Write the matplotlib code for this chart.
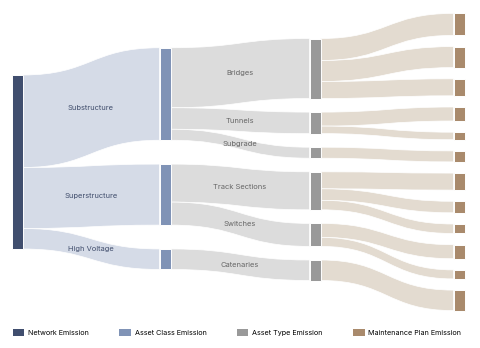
import matplotlib
matplotlib.use("Agg")
import matplotlib.pyplot as plt
from matplotlib.path import Path
from matplotlib.patches import PathPatch, Rectangle, Patch

# ──────────────────────────────────────────────
#  Data (emission values)
# ──────────────────────────────────────────────

network_name = "Network"
class_names = ["Substructure", "Superstructure", "High Voltage"]
type_names = ["Bridges", "Tunnels", "Subgrade", "Track Sections", "Switches", "Catenaries"]
type_class = [0, 0, 0, 1, 1, 2]
plan_values = [22, 21, 17, 14, 7.5, 11, 17, 11.5, 9.5, 14, 9, 20.5]
plan_type = [0, 0, 0, 1, 1, 2, 3, 3, 3, 4, 4, 5]

legend_labels = ["Network Emission", "Asset Class Emission",
                 "Asset Type Emission", "Maintenance Plan Emission"]

# ──────────────────────────────────────────────
#  Styling / layout
# ──────────────────────────────────────────────

node_colors = ["#404e6e", "#8093b6", "#999999", "#a98a6c"]
link_colors = ["#d5dbe7", "#dcdcdc", "#e3dbd0"]
label_colors = ["#404d6c", "#666666"]

col_x = [11.5, 159.5, 309.5, 453.5]
col_center = [162.0, 158.6, 159.5, 162.0]
col_pad = [0, 23.85, 13.6, 11.2]
node_w = 11

plt.rcParams["font.family"] = ["Inter", "DejaVu Sans"]

# ──────────────────────────────────────────────
#  Derived node values
# ──────────────────────────────────────────────

type_values = [0.0] * len(type_names)
for v, t in zip(plan_values, plan_type):
    type_values[t] += v
class_values = [0.0] * len(class_names)
for v, c in zip(type_values, type_class):
    class_values[c] += v
network_values = [sum(class_values)]

columns = [network_values, class_values, type_values, plan_values]
# parent index of each node in the previous column
parents = [None, [0] * len(class_names), type_class, plan_type]


def stack(values, center, pad):
    total = sum(values) + pad * (len(values) - 1)
    y = center - total / 2
    tops = []
    for v in values:
        tops.append(y)
        y += v + pad
    return tops


tops = [stack(v, c, p) for v, c, p in zip(columns, col_center, col_pad)]

fig = plt.figure(figsize=(4.8, 3.48), dpi=100)
ax = fig.add_axes([0, 0, 1, 1])
ax.set_xlim(0, 480)
ax.set_ylim(348, 0)
ax.axis("off")


def draw_link(x0, y0, x1, y1, h, color):
    xm = (x0 + x1) / 2
    verts = [(x0, y0), (xm, y0), (xm, y1), (x1, y1),
             (x1, y1 + h), (xm, y1 + h), (xm, y0 + h), (x0, y0 + h), (x0, y0)]
    codes = [Path.MOVETO, Path.CURVE4, Path.CURVE4, Path.CURVE4,
             Path.LINETO, Path.CURVE4, Path.CURVE4, Path.CURVE4, Path.CLOSEPOLY]
    ax.add_patch(PathPatch(Path(verts, codes), facecolor=color,
                           edgecolor="white", lw=0.5, zorder=1))


# links between consecutive columns
for col in range(1, 4):
    offset = list(tops[col - 1])
    for i, (v, p) in enumerate(zip(columns[col], parents[col])):
        x0 = col_x[col - 1] + node_w
        x1 = col_x[col]
        y0 = offset[p]
        y1 = tops[col][i]
        draw_link(x0, y0, x1, y1, v, link_colors[col - 1])
        offset[p] += v
        # labels for class and type nodes sit in the middle of their link
        if col in (1, 2):
            name = class_names[i] if col == 1 else type_names[i]
            ax.text((x0 + x1) / 2, (y0 + y1) / 2 + v / 2, name,
                    ha="center", va="center", fontsize=5.4,
                    color=label_colors[col - 1], zorder=3)

# nodes
for col in range(4):
    for top, v in zip(tops[col], columns[col]):
        ax.add_patch(Rectangle((col_x[col], top), node_w, v,
                               facecolor=node_colors[col], edgecolor="white",
                               lw=0.7, zorder=2))

handles = [Patch(facecolor=c, edgecolor="none") for c in node_colors]
fig.legend(handles, legend_labels, ncol=4, loc="center left",
           bbox_to_anchor=(12.7 / 480, 1 - 332.5 / 348), frameon=False,
           fontsize=5.2, handlelength=1.62, handleheight=1.05,
           handletextpad=0.5, columnspacing=4.2, borderpad=0, borderaxespad=0)

fig.savefig("out.png", dpi=100)
